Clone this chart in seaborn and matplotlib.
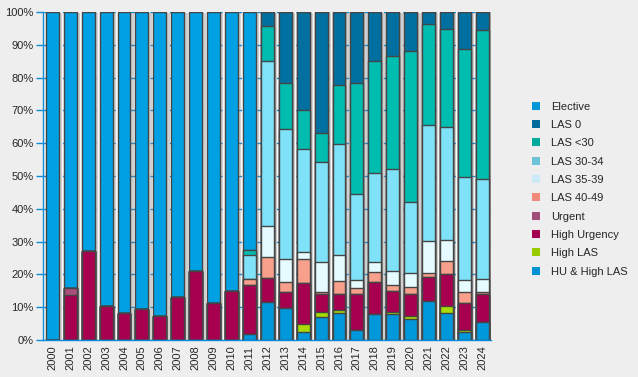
import numpy as np
import pandas as pd
import matplotlib
matplotlib.use("Agg")
import matplotlib.pyplot as plt
import matplotlib.patheffects as pe
from matplotlib.patches import Patch
from matplotlib.ticker import FixedLocator
import seaborn as sns

years = [str(y) for y in range(2000, 2025)]

# segment shares in %, bottom of the stack first
hu_high_las = [0, 0, 0, 0, 0, 0, 0, 0, 0, 0, 0, 1.7, 11.7, 9.7, 2.6, 6.9, 8.4, 3.1, 7.8, 7.8, 6.3, 11.8, 8.4, 2.6, 5.4]
high_las = [0, 0, 0, 0, 0, 0, 0, 0, 0, 0, 0, 0, 0, 0, 2.2, 1.7, 0.8, 0, 0, 0.8, 1.1, 0, 2.1, 0.5, 0]
high_urgency = [0, 13.7, 27.2, 10.5, 8.3, 9.5, 7.4, 13.2, 21.1, 11.4, 15.0, 15.0, 7.1, 5.1, 12.5, 5.3, 4.7, 10.8, 9.8, 6.3, 6.5, 7.3, 9.5, 8.1, 8.5]
urgent = [0, 2.2, 0, 0, 0, 0, 0, 0, 0, 0, 0, 0, 0, 0, 0, 0, 0, 0, 0, 0, 0, 0, 0, 0, 0]
las_40_49 = [0, 0, 0, 0, 0, 0, 0, 0, 0, 0, 0, 1.8, 6.4, 2.8, 7.5, 0.9, 4.0, 1.9, 3.3, 1.8, 2.2, 1.2, 4.0, 3.3, 0.9]
las_35_39 = [0, 0, 0, 0, 0, 0, 0, 0, 0, 0, 0, 0, 9.5, 7.0, 1.9, 9.0, 7.9, 2.5, 2.8, 4.5, 4.2, 9.8, 6.4, 3.7, 3.7]
las_30_34 = [0, 0, 0, 0, 0, 0, 0, 0, 0, 0, 0, 7.3, 50.3, 39.6, 31.7, 30.4, 33.9, 26.1, 27.1, 30.8, 21.7, 35.4, 34.7, 31.4, 30.5]
las_lt30 = [0, 0, 0, 0, 0, 0, 0, 0, 0, 0, 0, 1.8, 10.9, 14.1, 11.6, 8.8, 18.2, 34.1, 34.2, 34.5, 46.0, 31.0, 29.6, 39.0, 45.4]
las_0 = [0, 0, 0, 0, 0, 0, 0, 0, 0, 0, 0, 0, 4.1, 21.7, 30.0, 37.0, 22.1, 21.5, 15.0, 13.5, 12.0, 3.5, 5.3, 11.4, 5.6]
elective = [100, 84.1, 72.8, 89.5, 91.7, 90.5, 92.6, 86.8, 78.9, 88.6, 85.0, 72.4, 0, 0, 0, 0, 0, 0, 0, 0, 0, 0, 0, 0, 0]

categories = ["HU & High LAS", "High LAS", "High Urgency", "Urgent", "LAS 40-49",
              "LAS 35-39", "LAS 30-34", "LAS <30", "LAS 0", "Elective"]
bar_colors = ["#0098DA", "#A8DC00", "#A80050", "#A8507A", "#F8A08C",
              "#E6FBFF", "#80E2F8", "#00BDB0", "#0070A0", "#00A0E4"]
legend_colors = ["#0090D6", "#99CC00", "#A3004F", "#A04F7C", "#F08A7A",
                 "#CCEAF8", "#6CC4D8", "#00A99A", "#006A9A", "#0096DA"]

df = pd.DataFrame({
    "HU & High LAS": hu_high_las, "High LAS": high_las, "High Urgency": high_urgency,
    "Urgent": urgent, "LAS 40-49": las_40_49, "LAS 35-39": las_35_39,
    "LAS 30-34": las_30_34, "LAS <30": las_lt30, "LAS 0": las_0, "Elective": elective,
}, index=years)
cum = df[categories].cumsum(axis=1)

sns.set_style("white")
plt.rcParams["font.family"] = ["Liberation Sans", "DejaVu Sans"]

fig = plt.figure(figsize=(6.38, 3.77), dpi=100, facecolor="#EEEEEE")
ax = fig.add_axes([0.068, 0.098, 0.702, 0.870])
ax.set_facecolor("#F8F8F8")

axis_blue = "#0A8AD8"
ax.yaxis.grid(True, color=axis_blue, linestyle=(0, (3, 4)), linewidth=1)
ax.set_axisbelow(True)

# draw cumulative totals from the top category down so each layer covers the next
for i, (cat, col) in enumerate(zip(reversed(categories), reversed(bar_colors))):
    n_before = len(ax.patches)
    sns.barplot(x=years, y=cum[cat].values, color=col, saturation=1, width=0.72,
                edgecolor="#454545", linewidth=1, ax=ax)
    if i == 0:
        for p in ax.patches[n_before:]:
            p.set_path_effects([pe.SimplePatchShadow(offset=(2.5, -1), shadow_rgbFace="#888888", alpha=0.35),
                                pe.Normal()])

ax.set_xlim(-0.5, len(years) - 0.5)
ax.set_ylim(0, 100)
ax.set_yticks(range(0, 101, 10))
ax.set_yticklabels([f"{v}%" for v in range(0, 101, 10)], fontsize=8)
ax.set_xticks(range(len(years)))
ax.set_xticklabels(years, rotation=90, fontsize=8)
ax.xaxis.set_minor_locator(FixedLocator(np.arange(-0.5, len(years), 1)))
ax.tick_params(axis="x", which="major", length=0, pad=4)
ax.tick_params(axis="x", which="minor", length=5, color=axis_blue, width=1)
ax.tick_params(axis="y", length=5, color=axis_blue, width=1, pad=2, left=True)
ax.set_xlabel("")
ax.set_ylabel("")

for side in ["top", "right"]:
    ax.spines[side].set_visible(False)
for side in ["left", "bottom"]:
    ax.spines[side].set_color(axis_blue)
    ax.spines[side].set_linewidth(1)

handles = [Patch(facecolor=c, edgecolor="none", label=l)
           for l, c in zip(reversed(categories), reversed(legend_colors))]
fig.legend(handles=handles, loc="upper left", bbox_to_anchor=(0.818, 0.757),
           frameon=False, fontsize=8, handlelength=0.7, handleheight=0.7,
           handletextpad=1.0, labelspacing=0.75)

fig.savefig("out.png", dpi=100, facecolor=fig.get_facecolor())
